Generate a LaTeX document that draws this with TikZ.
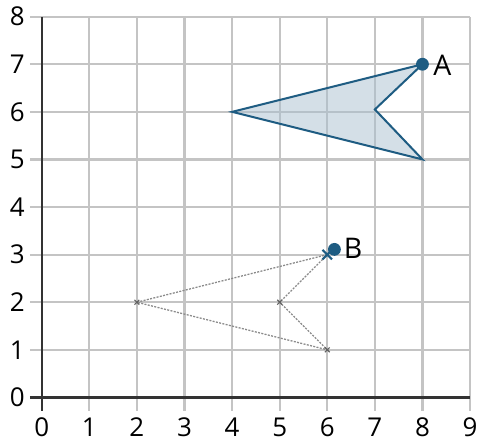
\documentclass[tikz,border=0pt]{standalone}
\usepackage{fontspec}
\setmainfont{Open Sans}
\definecolor{gridgray}{HTML}{C4C4C4}
\definecolor{axisdark}{HTML}{333333}
\definecolor{shapeblue}{HTML}{1E5C82}
\definecolor{shapefill}{HTML}{A9BFCF}
\definecolor{ghost}{HTML}{8A8A8A}
\tikzset{
  gridline/.style={draw=gridgray, line width=1.3pt},
  axisline/.style={draw=axisdark, line width=1.3pt},
  ticklabel/.style={font=\fontsize{15.5}{15.5}\selectfont, text=black, inner sep=0pt},
  ptlabel/.style={font=\fontsize{17}{17}\selectfont, text=black, inner sep=0pt},
  ptdot/.style={circle, fill=shapeblue, inner sep=0pt, minimum size=0.27cm},
  ghostline/.style={draw=ghost, line width=0.75pt, dash pattern=on 1.2pt off 0.8pt},
  xmark/.style={draw=ghost!70!black, line width=0.7pt},
}
\begin{document}
\begin{tikzpicture}
\useasboundingbox (-0.876,-0.98) rectangle (9.23,8.35);
% grid
\foreach \x in {1,...,9} \draw[gridline] (\x,-0.28) -- (\x,8);
\foreach \y in {1,...,8} \draw[gridline] (-0.25,\y) -- (9,\y);
% axes
\draw[axisline] (0,-0.28) -- (0,8);
\draw[axisline] (-0.25,0) -- (9,0);
% labels
\foreach \x in {0,...,9} \node[ticklabel, anchor=north] (xl\x) at (\x,-0.42) {\x};
\foreach \y in {0,...,8} \node[ticklabel, anchor=east] (yl\y) at (-0.35,\y) {\y};
% shape A
\coordinate (a1) at (8,7);
\coordinate (a2) at (4,6);
\coordinate (a3) at (8,5);
\coordinate (a4) at (7,6.05);
\fill[shapefill, fill opacity=0.5] (a1) -- (a2) -- (a3) -- (a4) -- cycle;
\draw[shapeblue, line width=1.2pt, line join=miter] (a1) -- (a2) -- (a3) -- (a4) -- cycle;
\node[ptdot] (A) at (a1) {};
\node[ptlabel, anchor=west] (Alab) at (8.22,6.98) {A};
% ghost shape
\coordinate (b1) at (6,3);
\coordinate (b2) at (2,2);
\coordinate (b3) at (6,1);
\coordinate (b4) at (5,2);
\draw[ghostline] (b1) -- (b2) -- (b3) -- (b4) -- cycle;
\foreach \p in {b2,b3,b4} \draw[xmark] ([shift={(-0.05,-0.05)}]\p) -- ([shift={(0.05,0.05)}]\p) ([shift={(-0.05,0.05)}]\p) -- ([shift={(0.05,-0.05)}]\p);
\node[ptdot] (B) at (6.15,3.11) {};
\draw[draw=shapeblue, line width=1.3pt] ([shift={(-0.1,-0.1)}]b1) -- ([shift={(0.1,0.1)}]b1) ([shift={(-0.1,0.1)}]b1) -- ([shift={(0.1,-0.1)}]b1);
\node[ptlabel, anchor=west] (Blab) at (6.34,3.13) {B};
\end{tikzpicture}
\end{document}
